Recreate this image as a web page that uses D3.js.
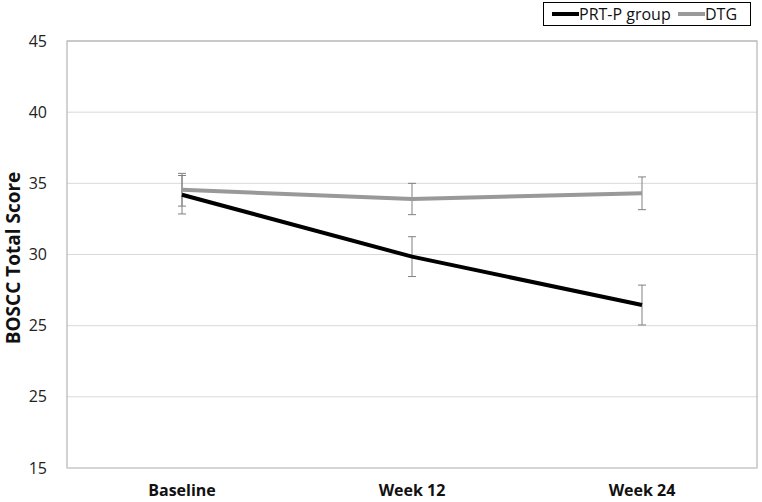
<!DOCTYPE html>
<html><head><meta charset="utf-8">
<script src="https://cdn.jsdelivr.net/npm/d3@7"></script>
<style>body{margin:0;background:#fff}</style>
</head><body>
<svg id="c" width="762" height="502"></svg>
<script>
const categories = ["Baseline", "Week 12", "Week 24"];
const seriesNames = ["PRT-P group", "DTG"];
const prtValues = [34.2, 29.85, 26.45];
const prtErrors = [1.35, 1.4, 1.4];
const dtgValues = [34.55, 33.9, 34.3];
const dtgErrors = [1.15, 1.1, 1.15];
const yTickValues = [45, 40, 35, 30, 25, 20, 15];
const yTickLabels = ["45", "40", "35", "30", "25", "25", "15"];
const yTitle = "BOSCC Total Score";

const svg = d3.select("#c");
const m = {l: 67, r: 5, t: 41, b: 34};
const W = 762, H = 502;
const x = d3.scaleBand().domain(categories).range([m.l, W - m.r]);
const y = d3.scaleLinear().domain([15, 45]).range([H - m.b, m.t]);
const font = "'Open Sans', Calibri, sans-serif";

// gridlines
svg.append("g").selectAll("line").data(yTickValues).join("line")
  .attr("x1", m.l).attr("x2", W - m.r)
  .attr("y1", d => y(d)).attr("y2", d => y(d))
  .attr("stroke", "#d9d9d9").attr("stroke-width", 1);

// frame
svg.append("rect").attr("x", m.l).attr("y", m.t)
  .attr("width", W - m.r - m.l).attr("height", H - m.b - m.t)
  .attr("fill", "none").attr("stroke", "#a6a6a6").attr("stroke-width", 1);
svg.append("line").attr("x1", m.l).attr("x2", W - m.r).attr("y1", y(15)).attr("y2", y(15))
  .attr("stroke", "#d9d9d9").attr("stroke-width", 1.5);

// y axis labels
const ya = d3.axisLeft(y).tickValues(yTickValues).tickSize(0)
  .tickFormat((d, i) => yTickLabels[i]);
const yg = svg.append("g").attr("transform", `translate(${m.l - 20},0)`).call(ya);
yg.select(".domain").remove();
yg.selectAll("text").attr("font-family", font).attr("font-size", 16).attr("fill", "#222")
  .attr("x", 0).attr("text-anchor", "end");

// x axis labels
const xa = d3.axisBottom(x).tickSize(0);
const xg = svg.append("g").attr("transform", `translate(0,${H - m.b + 14})`).call(xa);
xg.select(".domain").remove();
xg.selectAll("text").attr("font-family", font).attr("font-size", 16)
  .attr("font-weight", "bold").attr("fill", "#111");

// y title
svg.append("text").attr("transform", `translate(20,258) rotate(-90)`)
  .attr("text-anchor", "middle").attr("font-family", font).attr("font-size", 19)
  .attr("font-weight", "bold").attr("fill", "#111").text(yTitle);

const cx = d => x(d) + x.bandwidth() / 2;
const series = [
  {name: seriesNames[1], vals: dtgValues, errs: dtgErrors, color: "#999999"},
  {name: seriesNames[0], vals: prtValues, errs: prtErrors, color: "#000000"}
];

// error bars
series.forEach(s => {
  const g = svg.append("g");
  categories.forEach((c, i) => {
    const X = cx(c), lo = y(s.vals[i] - s.errs[i]), hi = y(s.vals[i] + s.errs[i]);
    g.append("line").attr("x1", X).attr("x2", X).attr("y1", lo).attr("y2", hi)
      .attr("stroke", "#808080").attr("stroke-width", 1);
    [lo, hi].forEach(v => g.append("line").attr("x1", X - 4).attr("x2", X + 4)
      .attr("y1", v).attr("y2", v).attr("stroke", "#808080").attr("stroke-width", 1));
  });
});

// lines
const line = d3.line().x(d => cx(d.c)).y(d => y(d.v));
series.forEach(s => {
  svg.append("path").datum(categories.map((c, i) => ({c, v: s.vals[i]})))
    .attr("d", line).attr("fill", "none").attr("stroke", s.color)
    .attr("stroke-width", 4);
});

// legend
const lg = svg.append("g");
lg.append("rect").attr("x", 543.5).attr("y", 2.5).attr("width", 207).attr("height", 23)
  .attr("fill", "#fff").attr("stroke", "#000").attr("stroke-width", 1);
const legItems = [
  {name: seriesNames[0], color: "#000", x0: 552},
  {name: seriesNames[1], color: "#999", x0: 678}
];
legItems.forEach(it => {
  lg.append("line").attr("x1", it.x0).attr("x2", it.x0 + 27).attr("y1", 14).attr("y2", 14)
    .attr("stroke", it.color).attr("stroke-width", 4);
  lg.append("text").attr("x", it.x0 + 27).attr("y", 19.5).attr("font-family", font)
    .attr("font-size", 16).attr("fill", "#111").text(it.name);
});
</script>
</body></html>
